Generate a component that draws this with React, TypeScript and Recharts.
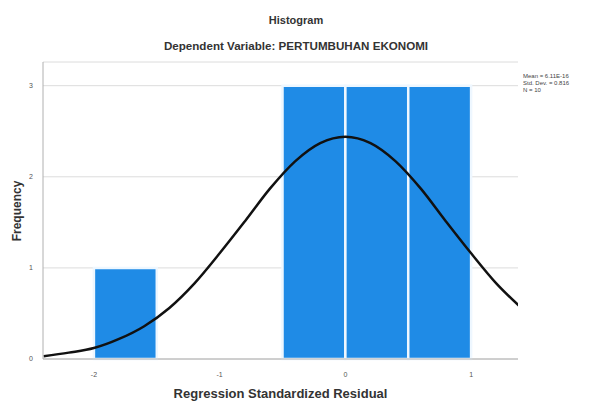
import React from 'react';
import {
  ComposedChart,
  Line,
  XAxis,
  YAxis,
  CartesianGrid,
  ReferenceArea,
} from 'recharts';

// histogram bins (residual ranges) and their counts
const binStart = [-2, -0.5, 0, 0.5];
const binEnd = [-1.5, 0, 0.5, 1];
const frequency = [1, 3, 3, 3];

// normal curve
const curveX = [-2.4, -2.2, -2.0, -1.8, -1.6, -1.4, -1.2, -1.0, -0.8, -0.6, -0.4, -0.2, 0, 0.2, 0.4, 0.6, 0.8, 1.0, 1.2, 1.4];
const curveY = [0.03, 0.07, 0.12, 0.22, 0.36, 0.56, 0.83, 1.16, 1.51, 1.87, 2.17, 2.37, 2.44, 2.37, 2.17, 1.87, 1.51, 1.16, 0.83, 0.56];

const xTicks = [-2, -1, 0, 1];
const yTicks = [0, 1, 2, 3];
const stats = ['Mean = 6.11E-16', 'Std. Dev. = 0.816', 'N = 10'];

const curve = curveX.map((x, i) => ({ x, y: curveY[i] }));

const FONT = '"Liberation Sans", Arial, sans-serif';
const AXIS = '#b0b0b0';

export default function App() {
  return (
    <div style={{ position: 'absolute', left: 0, top: 0, width: 592, height: 401, background: '#fff', fontFamily: FONT }}>
      <div style={{ position: 'absolute', left: 0, width: 592, top: 14, textAlign: 'center', fontSize: 11, fontWeight: 'bold', color: '#333' }}>
        Histogram
      </div>
      <div style={{ position: 'absolute', left: 0, width: 592, top: 39, textAlign: 'center', fontSize: 11.6, fontWeight: 'bold', color: '#333' }}>
        Dependent Variable: PERTUMBUHAN EKONOMI
      </div>
      <ComposedChart
        width={592}
        height={401}
        data={curve}
        margin={{ top: 62, right: 74, bottom: 0, left: 0 }}
      >
        <CartesianGrid vertical={false} stroke="#dcdcdc" />
        <XAxis
          dataKey="x"
          type="number"
          domain={[-2.405, 1.373]}
          ticks={xTicks}
          allowDataOverflow
          height={42}
          tickLine={false}
          tickMargin={7}
          stroke={AXIS}
          tick={{ fontSize: 7, fill: '#555', fontFamily: FONT }}
        />
        <YAxis
          type="number"
          domain={[0, 3.26]}
          ticks={yTicks}
          allowDataOverflow
          width={43}
          tickLine={false}
          tickMargin={4}
          stroke={AXIS}
          tick={{ fontSize: 7, fill: '#555', fontFamily: FONT }}
        />
        {frequency.map((f, i) => (
          <ReferenceArea
            key={i}
            x1={binStart[i]}
            x2={binEnd[i]}
            y1={0}
            y2={f}
            fill="#1f8be6"
            fillOpacity={1}
            stroke="#eef7ff"
            strokeWidth={2.5}
          />
        ))}
        <Line
          type="monotone"
          dataKey="y"
          stroke="#111"
          strokeWidth={2.5}
          dot={false}
          isAnimationActive={false}
        />
      </ComposedChart>
      <div style={{ position: 'absolute', left: 7, top: 211, transform: 'translate(0,-50%) rotate(-90deg)', transformOrigin: 'center', fontSize: 12, fontWeight: 'bold', color: '#333', whiteSpace: 'nowrap', width: 20, display: 'flex', justifyContent: 'center' }}>
        Frequency
      </div>
      <div style={{ position: 'absolute', left: 43, width: 475, top: 386, textAlign: 'center', fontSize: 13, fontWeight: 'bold', color: '#333' }}>
        Regression Standardized Residual
      </div>
      <div style={{ position: 'absolute', left: 523, top: 73, fontSize: 6, lineHeight: '7px', color: '#444' }}>
        {stats.map((s) => (
          <div key={s}>{s}</div>
        ))}
      </div>
    </div>
  );
}
